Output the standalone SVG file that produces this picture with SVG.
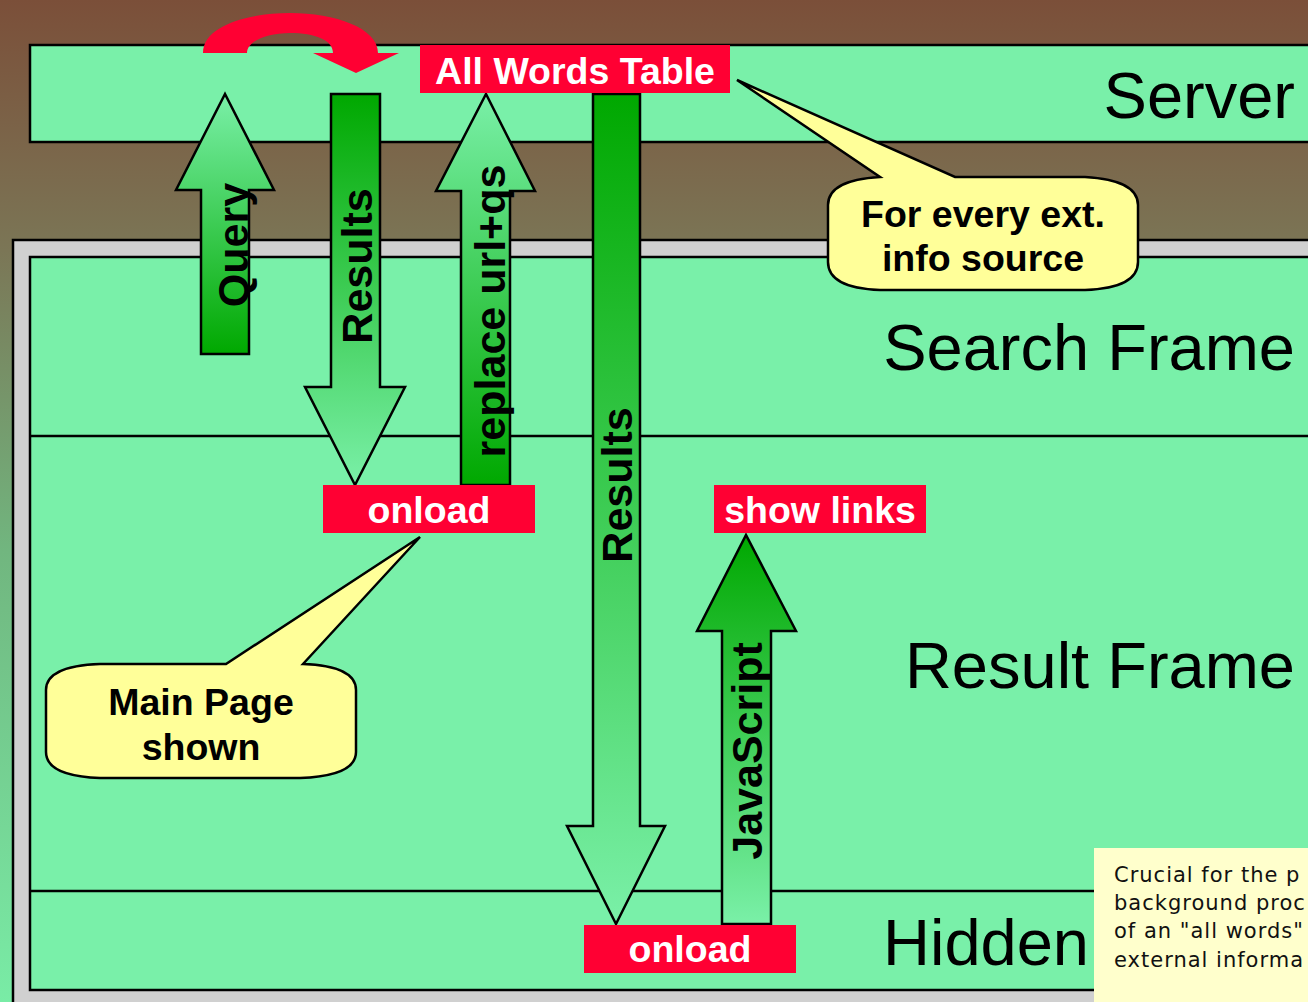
<svg xmlns="http://www.w3.org/2000/svg" width="1308" height="1002" viewBox="0 0 1308 1002">
<defs>
<linearGradient id="bg" x1="0" y1="0" x2="0" y2="1002" gradientUnits="userSpaceOnUse">
<stop offset="0" stop-color="#7b4f39"/>
<stop offset="0.25" stop-color="#7b7656"/>
<stop offset="0.55" stop-color="#71b67f"/>
<stop offset="1" stop-color="#79eca6"/>
</linearGradient>
<linearGradient id="upLight" x1="0" y1="0" x2="0" y2="1">
<stop offset="0" stop-color="#7af0a8"/>
<stop offset="1" stop-color="#00a800"/>
</linearGradient>
<linearGradient id="upDark" x1="0" y1="0" x2="0" y2="1">
<stop offset="0" stop-color="#00a800"/>
<stop offset="1" stop-color="#7af0a8"/>
</linearGradient>
<style>
.band{fill:#79f0a9;stroke:#000;stroke-width:2.5}
.frame{fill:#d0d0d0;stroke:#000;stroke-width:2.5}
.sep{stroke:#000;stroke-width:2.5}
.big{font-family:"Liberation Sans",Arial,sans-serif;font-size:65px;fill:#000}
.arrow{stroke:#000;stroke-width:2.5;stroke-linejoin:miter}
.rot{font-family:"Liberation Sans",Arial,sans-serif;font-size:43px;font-weight:bold;fill:#000;text-anchor:middle}
.red{fill:#ff0033}
.lbl{font-family:"Liberation Sans",Arial,sans-serif;font-size:37.5px;font-weight:bold;fill:#fff;text-anchor:middle}
.callout{fill:#ffff99;stroke:#000;stroke-width:2.5;stroke-linejoin:miter}
.ctext{font-family:"Liberation Sans",Arial,sans-serif;font-size:37.5px;font-weight:bold;fill:#000;text-anchor:middle}
.tip{font-family:"DejaVu Sans",Verdana,sans-serif;font-size:21px;letter-spacing:1px;fill:#111}
</style>
</defs>
<rect x="0" y="0" width="1308" height="1002" fill="url(#bg)"/>

<g id="server">
<rect class="band" x="30" y="45" width="1300" height="97"/>
<text class="big" x="1295" y="118" text-anchor="end">Server</text>
</g>

<g id="browser">
<rect class="frame" x="13" y="240" width="1320" height="800"/>
<rect class="band" x="30" y="257" width="1300" height="733"/>
<line class="sep" x1="30" y1="436" x2="1308" y2="436"/>
<line class="sep" x1="30" y1="891" x2="1308" y2="891"/>
</g>

<g id="search-frame"><text class="big" x="1295" y="370" text-anchor="end">Search Frame</text></g>
<g id="result-frame"><text class="big" x="1295" y="688" text-anchor="end">Result Frame</text></g>
<g id="hidden-frame"><text class="big" x="883" y="965">Hidden</text></g>

<g id="callout-ext">
<path class="callout" d="M828,205 Q828,180 880,177 L737,80 L955,177 L1085,177 Q1138,180 1138,205 L1138,262 Q1138,288 1085,290 L880,290 Q828,288 828,262 Z"/>
<text class="ctext" x="983" y="227">For every ext.</text>
<text class="ctext" x="983" y="271">info source</text>
</g>

<g id="callout-main">
<path class="callout" d="M46,690 Q46,666 100,664 L226,664 L420,537 L303,664 Q356,666 356,690 L356,752 Q356,776 300,778 L100,778 Q46,776 46,752 Z"/>
<text class="ctext" x="201" y="715">Main Page</text>
<text class="ctext" x="201" y="760">shown</text>
</g>

<g id="connectors">
<path id="redloop" class="red" d="M203,53 C203,25 250,13 290,13 C335,13 378,28 378,53 L399,53 L356,73 L313,53 L333,53 C333,40 315,33 290,33 C265,33 247,42 247,53 Z"/>
<g id="arrow-query">
<path class="arrow" fill="url(#upLight)" d="M201,354 L201,190 L176,190 L225,94 L274,190 L249,190 L249,354 Z"/>
<text class="rot" transform="translate(248,245) rotate(-90)">Query</text>
</g>
<g id="arrow-results1">
<path class="arrow" fill="url(#upDark)" d="M331,94 L380,94 L380,387 L405,387 L355,485 L305,387 L331,387 Z"/>
<text class="rot" transform="translate(372,266) rotate(-90)">Results</text>
</g>
<g id="arrow-replace">
<path class="arrow" fill="url(#upLight)" d="M461,485 L461,191 L436,191 L486,94 L535,191 L510,191 L510,485 Z"/>
<text class="rot" transform="translate(505,311) rotate(-90)">replace url+qs</text>
</g>
<g id="arrow-results2">
<path class="arrow" fill="url(#upDark)" d="M593,94 L640,94 L640,826 L665,826 L616,924 L567,826 L593,826 Z"/>
<text class="rot" transform="translate(632,485) rotate(-90)">Results</text>
</g>
<g id="arrow-js">
<path class="arrow" fill="url(#upDark)" d="M722,924 L722,631 L697,631 L746,535 L796,631 L771,631 L771,924 Z"/>
<text class="rot" transform="translate(762,751) rotate(-90)">JavaScript</text>
</g>
</g>

<g id="all-words-table">
<rect class="red" x="420" y="45" width="310" height="48"/>
<text class="lbl" x="575" y="84">All Words Table</text>
</g>
<g id="onload-search">
<rect class="red" x="323" y="485" width="212" height="48"/>
<text class="lbl" x="429" y="523">onload</text>
</g>
<g id="show-links">
<rect class="red" x="714" y="485" width="212" height="48"/>
<text class="lbl" x="820" y="523">show links</text>
</g>
<g id="onload-hidden">
<rect class="red" x="584" y="925" width="212" height="48"/>
<text class="lbl" x="690" y="962">onload</text>
</g>

<g id="note">
<rect x="1094" y="848" width="230" height="170" fill="#ffffcc"/>
<text class="tip" x="1114" y="882">Crucial for the p</text>
<text class="tip" x="1114" y="910">background proc</text>
<text class="tip" x="1114" y="938">of an "all words"</text>
<text class="tip" x="1114" y="967">external informa</text>
</g>
</svg>
